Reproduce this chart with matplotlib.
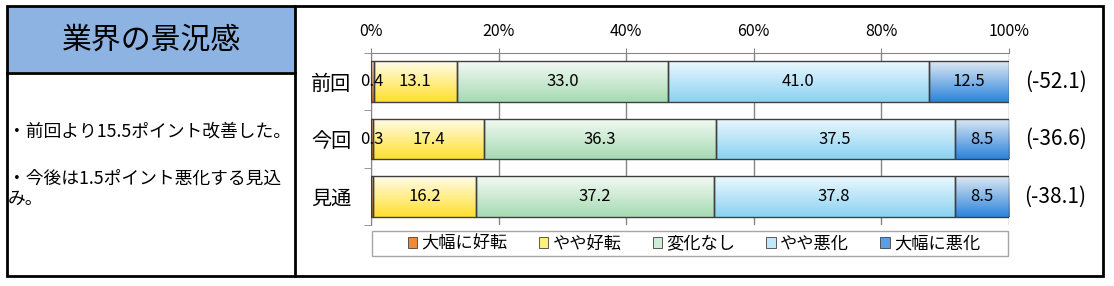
import numpy as np
import matplotlib.pyplot as plt
from matplotlib.colors import LinearSegmentedColormap
from matplotlib.patches import Rectangle, Patch
from matplotlib.lines import Line2D

plt.rcParams['font.family'] = ['Noto Sans CJK JP', 'DejaVu Sans']

W, H = 1114, 286

periods = ["前回", "今回", "見通"]
series = ["大幅に好転", "やや好転", "変化なし", "やや悪化", "大幅に悪化"]
big_up = [0.4, 0.3, 0.3]
small_up = [13.1, 17.4, 16.2]
no_change = [33.0, 36.3, 37.2]
small_down = [41.0, 37.5, 37.8]
big_down = [12.5, 8.5, 8.5]
di_labels = ["(-52.1)", "(-36.6)", "(-38.1)"]
show_big_up_label = [True, True, False]

title = "業界の景況感"
notes = ["・前回より15.5ポイント改善した。", "・今後は1.5ポイント悪化する見込", "み。"]

# (top, bottom) gradient colours for each series
grads = [("#fbd7b8", "#e0690c"),
         ("#fffcea", "#ffe02e"),
         ("#f3faf4", "#a6dab2"),
         ("#eaf8fe", "#8cd2f2"),
         ("#dde8f3", "#2b84dc")]
legend_cols = ["#ee8a3a", "#fff07a", "#cdeed5", "#bfe8fa", "#5a9fe4"]


def fx(px):
    return px / W


def fy(py):
    return 1 - py / H


fig = plt.figure(figsize=(W / 100, H / 100), dpi=100)

# frames of the left panel / outer box
fig.add_artist(Rectangle((fx(7), fy(72)), fx(288), 65 / H, facecolor="#8db3e2",
                         edgecolor="none", transform=fig.transFigure))
fig.add_artist(Rectangle((fx(7), fy(276)), fx(1096), 270 / H, facecolor="none",
                         edgecolor="black", lw=2, transform=fig.transFigure))
fig.add_artist(Line2D([fx(7), fx(295)], [fy(73), fy(73)], color="black", lw=2,
                      transform=fig.transFigure))
fig.add_artist(Line2D([fx(295), fx(295)], [fy(6), fy(276)], color="black", lw=2,
                      transform=fig.transFigure))

fig.text(fx(152), fy(40), title, fontsize=21.5, ha="center", va="center")
fig.text(fx(8), fy(131), notes[0], fontsize=12.8, ha="left", va="center")
fig.text(fx(8), fy(179), notes[1], fontsize=12.8, ha="left", va="center")
fig.text(fx(8), fy(199), notes[2], fontsize=12.8, ha="left", va="center")

ax = fig.add_axes([fx(371), fy(225), fx(638), 172 / H])

y = np.arange(len(periods))
data = [big_up, small_up, no_change, small_down, big_down]
left = np.zeros(len(periods))
for i, (name, vals) in enumerate(zip(series, data)):
    bars = ax.barh(y, vals, left=left, height=0.715, color="none",
                   edgecolor="#3f3f3f", lw=1, zorder=3, label=name)
    cmap = LinearSegmentedColormap.from_list("g%d" % i, [grads[i][0], grads[i][1]])
    grad = np.linspace(0, 1, 64).reshape(-1, 1)
    for b in bars:
        x0, w = b.get_x(), b.get_width()
        y0, h = b.get_y(), b.get_height()
        im = ax.imshow(grad, cmap=cmap, extent=(x0, x0 + w, y0 + h, y0),
                       origin="upper", aspect="auto", zorder=2)
        im.set_clip_path(b)
    if i == 0:
        labels = ["%.1f" % v if s else "" for v, s in zip(vals, show_big_up_label)]
    else:
        labels = ["%.1f" % v for v in vals]
    ax.bar_label(bars, labels=labels, label_type="center", fontsize=12, zorder=4)
    left += np.array(vals)

ax.set_xlim(0, 100)
ax.set_ylim(2.5, -0.5)
ax.set_xticks(np.arange(0, 101, 20))
ax.set_xticklabels(["%d%%" % v for v in range(0, 101, 20)], fontsize=11.5)
ax.xaxis.tick_top()
ax.tick_params(axis="x", length=3.5, color="#868686", pad=6)
ax.grid(axis="x", color="#868686", lw=1, zorder=1)
ax.set_yticks(y)
ax.set_yticklabels(periods, fontsize=14.5)
ax.set_yticks([-0.5, 0.5, 1.5, 2.5], minor=True)
ax.tick_params(axis="y", which="major", length=0, pad=14)
ax.tick_params(axis="y", which="minor", length=5, color="#868686")
for s in ["right", "bottom"]:
    ax.spines[s].set_visible(False)
for s in ["top", "left"]:
    ax.spines[s].set_color("#868686")

for yi, t in zip(y, di_labels):
    ax.text(107.3, yi, t, fontsize=15, ha="center", va="center")

# legend
fig.add_artist(Rectangle((fx(372), fy(256)), fx(636), 25 / H, facecolor="white",
                         edgecolor="#a6a6a6", lw=1, transform=fig.transFigure))
handles = [Patch(facecolor=c, edgecolor="#404040", lw=0.6) for c in legend_cols]
fig.legend(handles, series, loc="center", bbox_to_anchor=(fx(694), fy(243.5)),
           ncol=5, frameon=False, fontsize=12.4, handlelength=0.55, handleheight=0.55,
           handletextpad=0.25, columnspacing=1.8)

fig.savefig("out.png", dpi=100)
